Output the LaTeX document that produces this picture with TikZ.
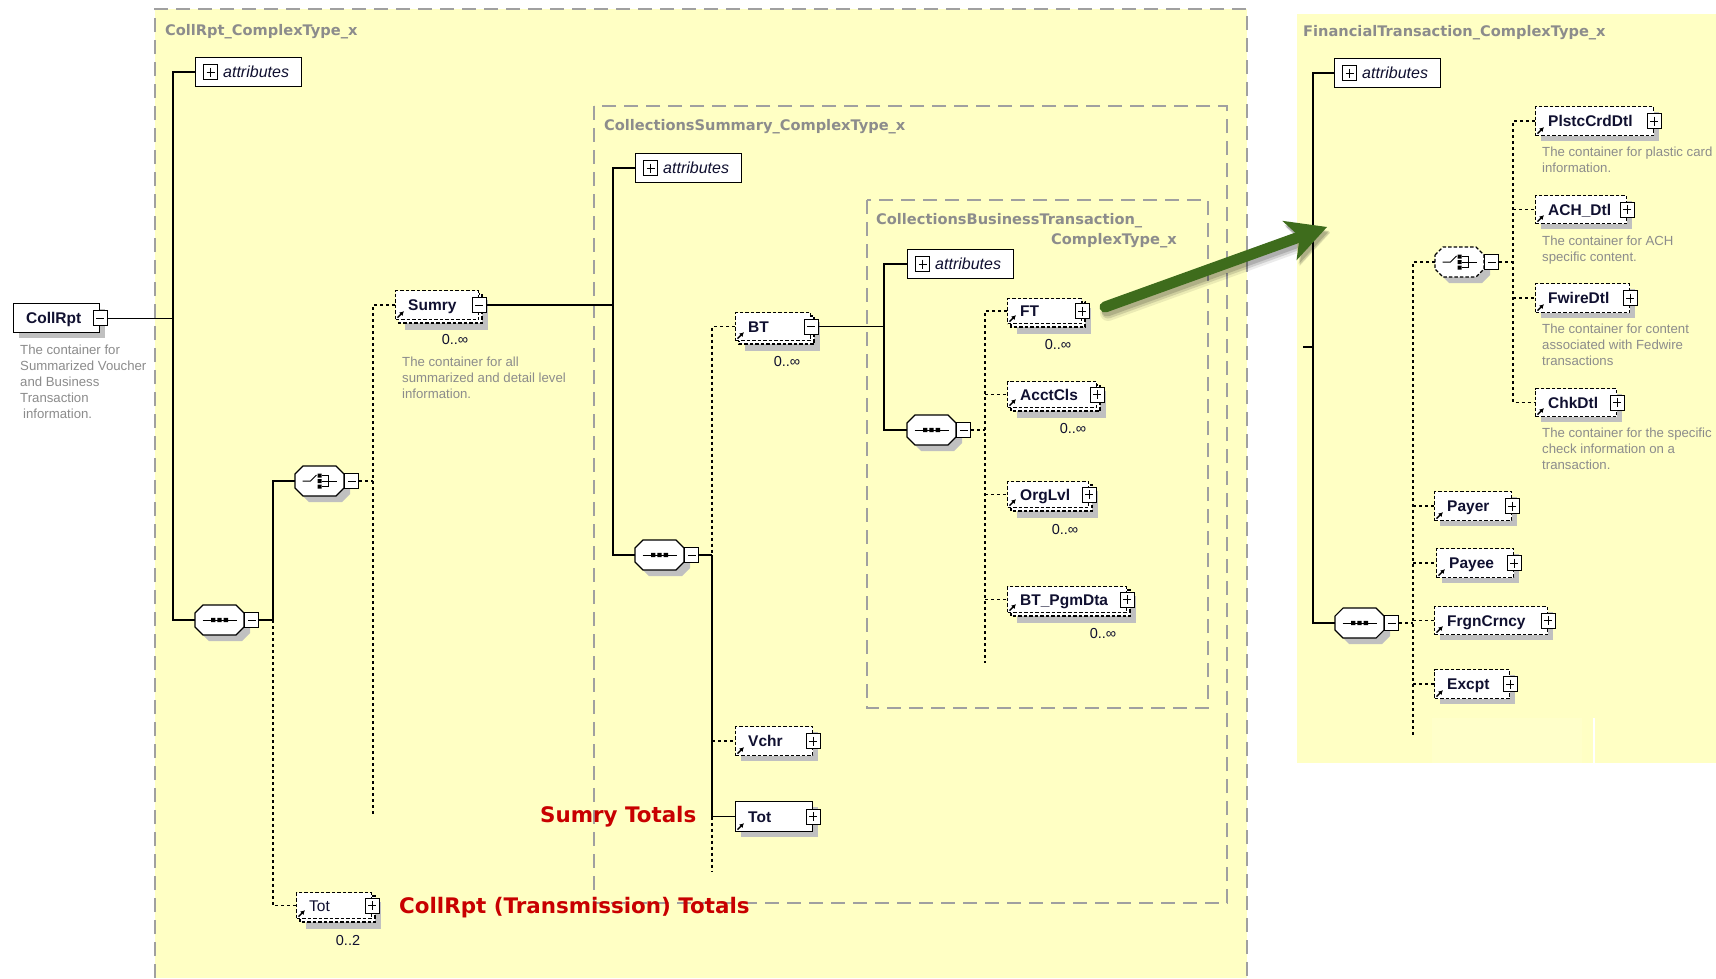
\documentclass[tikz,border=0pt]{standalone}
\usepackage{fontspec}
\setmainfont{Liberation Sans}
\newfontfamily\widesans{DejaVu Sans}
\usetikzlibrary{arrows.meta,calc}

\definecolor{panelbg}{RGB}{255,255,196}
\definecolor{panelline}{RGB}{160,160,160}
\definecolor{shadowgray}{RGB}{192,192,192}
\definecolor{inkblue}{RGB}{16,16,48}
\definecolor{desctext}{RGB}{140,140,140}
\definecolor{labeltext}{RGB}{140,140,140}
\definecolor{notered}{RGB}{200,0,0}
\definecolor{arrowgreen}{RGB}{62,108,28}

\tikzset{
  conn/.style={line width=1.3pt, black},
  dconn/.style={line width=1.2pt, black, dash pattern=on 3pt off 3pt},
  optel/.style={dash pattern=on 3.5pt off 2pt},
  reqel/.style={},
  elframe/.style={draw, line width=1.1pt, fill=white, inner sep=0pt, rectangle},
  signbox/.style={draw, line width=1pt, fill=white, inner sep=0pt, rectangle,
    minimum width=14pt, minimum height=15pt},
  msign/.style={signbox, path picture={
    \draw[line width=1pt] ([xshift=3pt]path picture bounding box.west) -- ([xshift=-3pt]path picture bounding box.east);}},
  psign/.style={signbox, path picture={
    \draw[line width=1pt] ([xshift=3pt]path picture bounding box.west) -- ([xshift=-3pt]path picture bounding box.east);
    \draw[line width=1pt] ([yshift=-3pt]path picture bounding box.north) -- ([yshift=3pt]path picture bounding box.south);}},
  eltext/.style={inner sep=0pt, text=inkblue, font=\fontsize{15.5}{18}\selectfont\bfseries},
  attrtext/.style={inner sep=0pt, text=inkblue, font=\fontsize{16}{19}\selectfont\itshape},
  occtext/.style={inner sep=0pt, text=inkblue, font=\fontsize{14.5}{16}\selectfont},
  desc/.style={inner sep=0pt, text=desctext, align=left, font=\fontsize{13.2}{16}\selectfont},
  plabel/.style={inner sep=0pt, text=labeltext, font=\widesans\fontsize{14.6}{19}\selectfont\bfseries},
  note/.style={inner sep=0pt, text=notered, font=\widesans\fontsize{21.4}{25}\selectfont\bfseries},
  frame/.style={panelline, line width=1.4pt, dash pattern=on 14pt off 8pt},
  refarrow/.style={line width=1.5pt, -{Latex[length=4.5pt,width=5pt]}},
}

% element box: name, outer box x1 y1 x2 y2, label, border style, sign style, stacked (1) or single (0)
\newcommand\xel[9]{%
  \ifnum#9=1
    \fill[shadowgray] (#2+10,#3+10) rectangle (#4+6,#5+7);
    \draw[line width=1.1pt, fill=white, #7] (#2+4,#3+4) rectangle (#4,#5);
    \node[elframe, #7, anchor=north west, minimum width={#4-4-#2}, minimum height={#5-4-#3}] (#1) at (#2,#3) {};
  \else
    \fill[shadowgray] (#2+6,#3+6) rectangle (#4+6,#5+6);
    \node[elframe, #7, anchor=north west, minimum width={#4-#2}, minimum height={#5-#3}] (#1) at (#2,#3) {};
  \fi
  \node[#8] (#1-s) at (#1.east) {};
  \node[eltext, anchor=base west] (#1-t) at ([shift={(13pt,-5.5pt)}]#1.west) {#6};
  \draw[refarrow] ([shift={(2.5pt,2.5pt)}]#1.south west) -- ++(6.5,-6.5);
}

% compositor octagon: name, left x, centre y, border style
\newcommand\xoct[4]{%
  \fill[shadowgray, shift={(#2+6,#3+6)}] (0,-7) -- (8,-15) -- (41,-15) -- (49,-7) -- (49,7) -- (41,15) -- (8,15) -- (0,7) -- cycle;
  \draw[line width=1.1pt, fill=white, #4, shift={(#2,#3)}] (0,-7) -- (8,-15) -- (41,-15) -- (49,-7) -- (49,7) -- (41,15) -- (8,15) -- (0,7) -- cycle;
  \node[inner sep=0pt, minimum width=49pt, minimum height=30pt, anchor=west] (#1) at (#2,#3) {};
  \node[msign, anchor=west] (#1-s) at (#1.east) {};
}
\newcommand\xseq[4]{%
  \xoct{#1}{#2}{#3}{#4}
  \begin{scope}[shift={(#2+24.5,#3)}]
    \draw[line width=1pt] (-17,0) -- (17,0);
    \fill (-8.5,-2.2) rectangle (-4.1,2.2) (-2.2,-2.2) rectangle (2.2,2.2) (4.1,-2.2) rectangle (8.5,2.2);
  \end{scope}
}
\newcommand\xchoice[4]{%
  \xoct{#1}{#2}{#3}{#4}
  \begin{scope}[shift={(#2+24.5,#3)}]
    \draw[line width=1pt] (-17,0) -- (-9,0) -- (-3,-6);
    \fill (-2,-7.5) rectangle (2,-3.5) (-2,-2) rectangle (2,2) (-2,3.5) rectangle (2,7.5);
    \draw[line width=1pt] (2,-5.5) -- (9,-5.5) -- (9,5.5) -- (2,5.5) (2,0) -- (17,0);
  \end{scope}
}

% attribute group box: name, top-left x, y
\newcommand\xattr[3]{%
  \node[draw, line width=1.1pt, fill=white, anchor=north west, minimum width=106pt, minimum height=29pt, inner sep=0pt] (#1) at (#2,#3) {};
  \node[psign, anchor=west] (#1-s) at ([xshift=8pt]#1.west) {};
  \node[attrtext, anchor=base west] (#1-t) at ([shift={(28pt,-5.5pt)}]#1.west) {attributes};
}

\begin{document}
\begin{tikzpicture}[x=1pt, y=-1pt]
\useasboundingbox (0,0) rectangle (1716,978);
\fill[white] (0,0) rectangle (1716,978);

% type panels
\fill[panelbg] (155,9) rectangle (1247,978);
\draw[frame] (155,978) -- (155,9) -- (1247,9) -- (1247,978);
\fill[panelbg] (1297,14) rectangle (1716,763);
\fill[white, opacity=0.1] (1432,718) rectangle (1582,763);
\draw[white, line width=1.5pt] (1594,718) -- (1594,763);
\draw[frame, line width=1.3pt] (594,106) rectangle (1227,903);
\draw[frame, line width=1.3pt] (867,200) rectangle (1208,708);

\node[plabel, anchor=base west] (lblColl) at (165,35) {CollRpt\_ComplexType\_x};
\node[plabel, anchor=base west] (lblSum) at (604,130) {CollectionsSummary\_ComplexType\_x};
\node[plabel, anchor=base west] (lblBT1) at (876,224) {CollectionsBusinessTransaction\_};
\node[plabel, anchor=base west] (lblBT2) at (1051,244) {ComplexType\_x};
\node[plabel, anchor=base west] (lblFT) at (1303,36) {FinancialTransaction\_ComplexType\_x};

% spine positions
\coordinate (spA) at (173,0);
\coordinate (spB) at (273,0);
\coordinate (spC) at (373,0);
\coordinate (spD) at (613,0);
\coordinate (spE) at (712,0);
\coordinate (spF) at (884,0);
\coordinate (spG) at (985,0);
\coordinate (spH) at (1313,0);
\coordinate (spI) at (1413,0);
\coordinate (spJ) at (1513,0);
\coordinate (spCend) at (373,815);
\coordinate (spEend) at (712,872);
\coordinate (spGend) at (985,663);
\coordinate (spIend) at (1413,735);
\coordinate (ftIn) at (1303,347);

% root element
\fill[shadowgray] (19,309) rectangle (105,338);
\node[elframe, line width=1.3pt, anchor=north west, minimum width=86pt, minimum height=29pt] (CollRpt) at (13,303) {};
\node[msign] (CollRpt-s) at (CollRpt.east) {};
\node[eltext, anchor=base west] (CollRpt-t) at ([shift={(13pt,-5.5pt)}]CollRpt.west) {CollRpt};
\node[desc, anchor=north west] (CollRpt-d) at (20,345) {The container for\\Summarized Voucher\\and Business\\Transaction\\\hspace{3pt}information.};

% CollRpt content
\xattr{attrA}{195}{57}
\xseq{seqA}{195}{620}{}
\xchoice{choiceA}{295}{481}{}
\xel{Sumry}{395}{290}{482}{323}{Sumry}{optel}{msign}{1}
\node[occtext] (Sumry-o) at (455,340) {0..∞};
\node[desc, anchor=north west] (Sumry-d) at (402,357) {The container for all\\summarized and detail level\\information.};
\xel{TotA}{296}{892}{375}{922}{\mdseries Tot}{optel}{psign}{1}
\node[occtext] (TotA-o) at (348,940) {0..2};

% CollectionsSummary content
\xattr{attrB}{635}{153}
\xseq{seqB}{635}{555}{}
\xel{BT}{735}{312}{814}{344}{BT}{optel}{msign}{1}
\node[occtext] (BT-o) at (787,361) {0..∞};
\xel{Vchr}{735}{726}{812}{755}{Vchr}{optel}{psign}{0}
\xel{TotB}{735}{801}{812}{831}{Tot}{reqel}{psign}{0}

% CollectionsBusinessTransaction content
\xattr{attrC}{907}{249}
\xseq{seqC}{907}{430}{}
\xel{FT}{1007}{298}{1085}{327}{FT}{optel}{psign}{1}
\node[occtext] (FT-o) at (1058,345) {0..∞};
\xel{AcctCls}{1007}{381}{1100}{411}{AcctCls}{optel}{psign}{1}
\node[occtext] (AcctCls-o) at (1073,428) {0..∞};
\xel{OrgLvl}{1007}{481}{1092}{511}{OrgLvl}{optel}{psign}{1}
\node[occtext] (OrgLvl-o) at (1065,529) {0..∞};
\xel{BTPgm}{1007}{586}{1130}{616}{BT\_PgmDta}{optel}{psign}{1}
\node[occtext] (BTPgm-o) at (1103,633) {0..∞};

% FinancialTransaction content
\xattr{attrD}{1334}{58}
\xseq{seqD}{1335}{623}{}
\xchoice{choiceD}{1435}{262}{optel}
\xel{Plstc}{1535}{106}{1653}{135}{PlstcCrdDtl}{optel}{psign}{0}
\node[desc, anchor=north west] (Plstc-d) at (1542,147) {The container for plastic card\\information.};
\xel{ACH}{1535}{195}{1626}{223}{ACH\_Dtl}{optel}{psign}{0}
\node[desc, anchor=north west] (ACH-d) at (1542,236) {The container for ACH\\specific content.};
\xel{Fwire}{1535}{283}{1629}{312}{FwireDtl}{optel}{psign}{0}
\node[desc, anchor=north west] (Fwire-d) at (1542,324) {The container for content\\associated with Fedwire\\transactions};
\xel{Chk}{1535}{388}{1616}{416}{ChkDtl}{optel}{psign}{0}
\node[desc, anchor=north west] (Chk-d) at (1542,428) {The container for the specific\\check information on a\\transaction.};
\xel{Payer}{1434}{491}{1511}{520}{Payer}{optel}{psign}{0}
\xel{Payee}{1436}{548}{1513}{577}{Payee}{optel}{psign}{0}
\xel{Frgn}{1434}{606}{1547}{634}{FrgnCrncy}{optel}{psign}{0}
\xel{Excpt}{1434}{669}{1509}{698}{Excpt}{optel}{psign}{0}

% connectors: CollRpt
\draw[conn] (CollRpt-s.east) -- (CollRpt-s.east -| spA);
\draw[conn] (attrA.west) -- (attrA.west -| spA) -- (seqA.west -| spA) -- (seqA.west);
\draw[conn] (seqA-s.east) -- (seqA-s.east -| spB) -- (choiceA.west -| spB) -- (choiceA.west);
\draw[dconn] (seqA-s.east -| spB) -- (TotA.west -| spB) -- (TotA.west);
\draw[dconn] (choiceA-s.east) -- (choiceA-s.east -| spC);
\draw[dconn] (Sumry.west) -- (Sumry.west -| spC) -- (spCend);
% connectors: CollectionsSummary
\draw[conn] (Sumry-s.east) -- (Sumry-s.east -| spD);
\draw[conn] (attrB.west) -- (attrB.west -| spD) -- (seqB.west -| spD) -- (seqB.west);
\draw[conn] (seqB-s.east) -- (seqB-s.east -| spE);
\draw[dconn] (BT.west) -- (BT.west -| spE) -- (seqB-s.east -| spE);
\draw[conn] (seqB-s.east -| spE) -- (TotB.west -| spE) -- (TotB.west);
\draw[dconn] (Vchr.west -| spE) -- (Vchr.west);
\draw[dconn] (TotB.west -| spE) -- (spEend);
% connectors: CollectionsBusinessTransaction
\draw[conn] (BT-s.east) -- (BT-s.east -| spF);
\draw[conn] (attrC.west) -- (attrC.west -| spF) -- (seqC.west -| spF) -- (seqC.west);
\draw[dconn] (seqC-s.east) -- (seqC-s.east -| spG);
\draw[dconn] (FT.west) -- (FT.west -| spG) -- (spGend);
\foreach \n in {AcctCls,OrgLvl,BTPgm} \draw[dconn] (\n.west -| spG) -- (\n.west);
% connectors: FinancialTransaction
\draw[conn] (attrD.west) -- (attrD.west -| spH) -- (seqD.west -| spH) -- (seqD.west);
\draw[conn] (ftIn) -- (ftIn -| spH);
\draw[dconn] (seqD-s.east) -- (seqD-s.east -| spI);
\draw[dconn] (choiceD.west) -- (choiceD.west -| spI) -- (spIend);
\foreach \n in {Payer,Payee,Frgn,Excpt} \draw[dconn] (\n.west -| spI) -- (\n.west);
\draw[dconn] (choiceD-s.east) -- (choiceD-s.east -| spJ);
\draw[dconn] (Plstc.west) -- (Plstc.west -| spJ) -- (Chk.west -| spJ) -- (Chk.west);
\foreach \n in {ACH,Fwire} \draw[dconn] (\n.west -| spJ) -- (\n.west);

% annotations
\node[note, anchor=base west] (noteSumry) at (540,822) {Sumry Totals};
\node[note, anchor=base west] (noteColl) at (399,913) {CollRpt (Transmission) Totals};

% link arrow from FT to its type
\coordinate (gTail) at (1105,307);
\coordinate (gTip) at (1327,227);
\coordinate (gBase) at ($(gTip)!40pt!(gTail)$);
\coordinate (gNotch) at ($(gTip)!29pt!(gTail)$);
\coordinate (gBarbA) at ($(gBase)!21pt!90:(gTip)$);
\coordinate (gBarbB) at ($(gBase)!21pt!-90:(gTip)$);
\foreach \dx/\dy/\w/\o in {3/-6/16/0.08, 3/-5/13/0.12, 2/-4/11/0.15} {
  \draw[black, opacity=\o, line width=\w pt, line cap=round]
    ([shift={(\dx pt,\dy pt)}]gTail) -- ([shift={(\dx pt,\dy pt)}]gNotch);
  \fill[black, opacity=\o]
    ([shift={(\dx pt,\dy pt)}]gTip) -- ([shift={(\dx pt,\dy pt)}]gBarbA) -- ([shift={(\dx pt,\dy pt)}]gNotch) -- ([shift={(\dx pt,\dy pt)}]gBarbB) -- cycle;
}
\draw[arrowgreen, line width=11pt, line cap=round] (gTail) -- (gNotch);
\fill[arrowgreen] (gTip) -- (gBarbA) -- (gNotch) -- (gBarbB) -- cycle;
\end{tikzpicture}
\end{document}
